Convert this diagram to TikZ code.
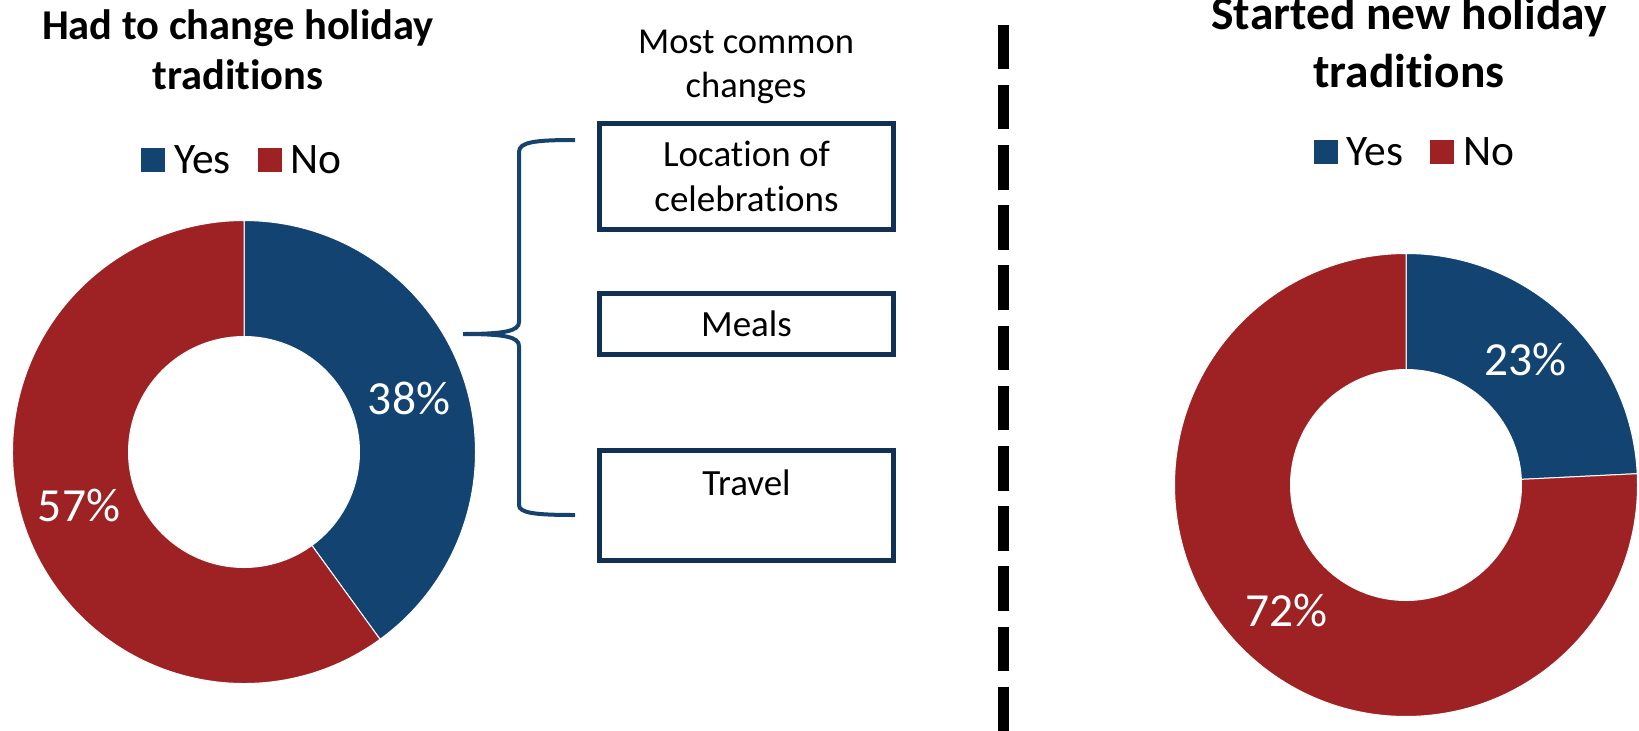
\documentclass[tikz,border=0pt]{standalone}
\usepackage{fontspec}
\setmainfont{Carlito}[Ligatures=NoCommon]
\usetikzlibrary{positioning,calc}

\definecolor{yesblue}{RGB}{19,68,113}
\definecolor{nored}{RGB}{158,34,36}
\definecolor{boxnavy}{RGB}{16,49,83}
\definecolor{bracenavy}{RGB}{22,67,110}

\tikzstyle{charttitle}=[font=\bfseries\fontsize{42.5}{50}\selectfont,align=center,inner sep=0pt]
\tikzstyle{legsquare}=[rectangle,minimum size=24pt,inner sep=0pt,outer sep=0pt]
\tikzstyle{legtext}=[font=\fontsize{43.5}{52}\selectfont,inner sep=0pt,outer sep=0pt]
\tikzstyle{pctlabel}=[font=\fontsize{47.5}{56}\selectfont,text=white,inner sep=0pt]
\tikzstyle{chgbox}=[rectangle,draw=boxnavy,line width=5pt,minimum width=294pt,align=center,inner sep=0pt,outer sep=0pt,font=\fontsize{37}{45}\selectfont]
\tikzstyle{slice}=[draw=white,line width=1pt]

\def\ringR{231.5pt}
\def\holeR{115.5pt}
% one piece of a ring chart: centre, start angle, end angle, colour
\newcommand{\ringslice}[4]{%
  \filldraw[slice,fill=#4] ($(#1)+(#2:\ringR)$) arc[start angle=#2,end angle=#3,radius=\ringR]
    -- ($(#1)+(#3:\holeR)$) arc[start angle=#3,end angle=#2,radius=\holeR] -- cycle;}

\begin{document}
\begin{tikzpicture}[x=1pt,y=1pt]
\useasboundingbox (0,0) rectangle (1639,-731);

% Left chart: had to change
\node [charttitle,anchor=base] (titleL) at (238,-89) {Had to change holiday\\traditions};
\node [legsquare,fill=yesblue] (keyYesL) at (153,-160) {};
\node [legtext,right=9pt of keyYesL] (keyYesTxtL) {Yes};
\node [legsquare,fill=nored,right=27pt of keyYesTxtL] (keyNoL) {};
\node [legtext,right=9pt of keyNoL] (keyNoTxtL) {No};

\coordinate (ringL) at (244,-452);
\ringslice{ringL}{90}{-54}{yesblue}
\ringslice{ringL}{-54}{-270}{nored}
\node [pctlabel] (pctYesL) at ($(ringL)+(18:173.5)$) {38\%};
\node [pctlabel] (pctNoL) at ($(ringL)+(198:173.5)$) {57\%};

% Most common changes
\node [font=\fontsize{36.5}{44}\selectfont,align=center,inner sep=0pt,anchor=base] (chgHead) at (746,-97) {Most common\\changes};
\node [chgbox,minimum height=106pt] (chgLoc) at (746.5,-176.5) {Location of\\celebrations};
\node [chgbox,minimum height=61pt,below=64pt of chgLoc] (chgMeal) {Meals};
\node [chgbox,minimum height=110pt,text height=26pt,text depth=47pt,below=96pt of chgMeal] (chgTravel) {Travel};

% brace
\coordinate (braceTop) at (575,-140);
\coordinate (braceTip) at (463,-334);
\coordinate (braceBot) at (575,-515);
\draw [bracenavy,line width=4pt] (braceTop) .. controls +(-40,0) and (519,-142) .. (519,-152)
  -- (519,-322) .. controls (519,-331) and (505,-334) .. (braceTip)
  .. controls (505,-334) and (519,-337) .. (519,-346)
  -- (519,-505) .. controls (519,-513) and +(-40,0) .. (braceBot);

% divider
\coordinate (divTop) at (1003,-24.5);
\coordinate (divBot) at (1003,-731);
\draw [line width=11pt,dash pattern=on 44.6pt off 15.6pt] (divTop) -- (divBot);

% Right chart: started new
\node [charttitle,font=\bfseries\fontsize{47.5}{58}\selectfont,anchor=base] (titleR) at (1409,-87) {Started new holiday\\traditions};
\node [legsquare,fill=yesblue] (keyYesR) at (1325.5,-151.5) {};
\node [legtext,right=9pt of keyYesR] (keyYesTxtR) {Yes};
\node [legsquare,fill=nored,right=27pt of keyYesTxtR] (keyNoR) {};
\node [legtext,right=9pt of keyNoR] (keyNoTxtR) {No};

\coordinate (ringR) at (1406,-485);
\ringslice{ringR}{90}{2.8}{yesblue}
\ringslice{ringR}{2.8}{-270}{nored}
\node [pctlabel] (pctYesR) at ($(ringR)+(46.4:173.5)$) {23\%};
\node [pctlabel] (pctNoR) at ($(ringR)+(226.4:173.5)$) {72\%};

\end{tikzpicture}
\end{document}
